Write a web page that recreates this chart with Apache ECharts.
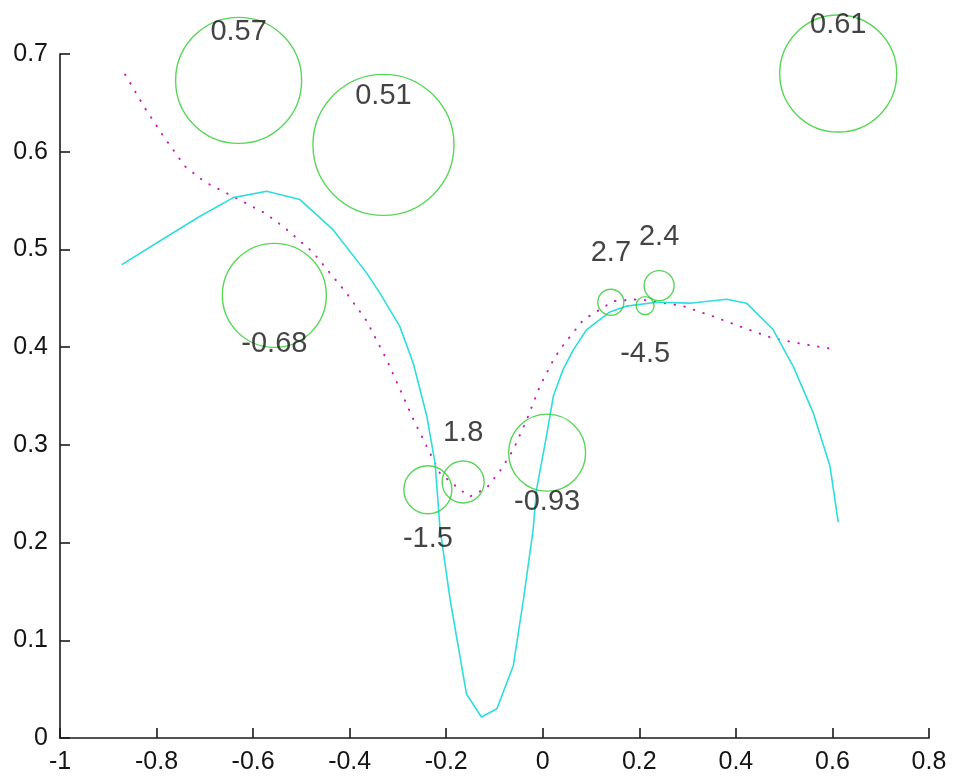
<!DOCTYPE html>
<html>
<head>
<meta charset="utf-8">
<script src="https://cdn.jsdelivr.net/npm/echarts@6/dist/echarts.min.js"></script>
<style>
  html, body { margin: 0; padding: 0; background: #fff; }
  #chart { width: 953px; height: 778px; }
</style>
</head>
<body>
<div id="chart"></div>
<script>
// ---- Data ----
const cyanX = [-0.872, -0.779, -0.710, -0.641, -0.572, -0.503, -0.434, -0.365, -0.337, -0.296, -0.268, -0.240, -0.223, -0.213, -0.192, -0.158, -0.127, -0.095, -0.061, -0.040, -0.020, -0.013, 0.008, 0.022, 0.042, 0.063, 0.091, 0.139, 0.174, 0.236, 0.305, 0.381, 0.422, 0.477, 0.519, 0.560, 0.595, 0.612];
const cyanY = [0.4845, 0.513, 0.534, 0.553, 0.5595, 0.551, 0.520, 0.476, 0.455, 0.421, 0.383, 0.329, 0.281, 0.215, 0.142, 0.045, 0.0215, 0.030, 0.074, 0.142, 0.213, 0.254, 0.310, 0.350, 0.377, 0.397, 0.418, 0.436, 0.442, 0.446, 0.445, 0.449, 0.445, 0.418, 0.380, 0.333, 0.278, 0.221];

const magentaX = [-0.865, -0.827, -0.786, -0.741, -0.700, -0.637, -0.575, -0.534, -0.476, -0.406, -0.365, -0.323, -0.296, -0.268, -0.240, -0.213, -0.171, -0.151, -0.116, -0.089, -0.061, -0.033, -0.006, 0.022, 0.036, 0.084, 0.146, 0.201, 0.291, 0.353, 0.415, 0.477, 0.540, 0.602];
const magentaY = [0.679, 0.647, 0.616, 0.585, 0.569, 0.553, 0.537, 0.522, 0.497, 0.455, 0.427, 0.387, 0.357, 0.326, 0.298, 0.271, 0.254, 0.247, 0.256, 0.273, 0.295, 0.326, 0.360, 0.387, 0.398, 0.428, 0.447, 0.449, 0.442, 0.4315, 0.420, 0.409, 0.403, 0.398];

const bubbleX = [-0.630, -0.330, -0.556, 0.612, -0.238, -0.165, 0.009, 0.141, 0.241, 0.212];
const bubbleY = [0.673, 0.607, 0.453, 0.680, 0.254, 0.262, 0.292, 0.446, 0.463, 0.4425];
const bubbleValue = [0.57, 0.51, -0.68, 0.61, -1.5, 1.8, -0.93, 2.7, 2.4, -4.5];
const bubbleSize = [126, 141, 104, 117, 48, 42, 77, 26, 30, 18];
const labelShift = 0.05; // labels placed 0.05 above (positive) or below (negative) the centre

// ---- Build ----
const cyanData = cyanX.map((x, i) => [x, cyanY[i]]);
const magentaData = magentaX.map((x, i) => [x, magentaY[i]]);
const bubbleData = bubbleX.map((x, i) => ({ value: [x, bubbleY[i]], symbolSize: bubbleSize[i] }));
const labelData = bubbleX.map((x, i) => ({
  value: [x, bubbleY[i] + (bubbleValue[i] >= 0 ? labelShift : -labelShift)],
  name: String(bubbleValue[i])
}));

const textColor = '#141414';
const fontFamily = "'Liberation Sans', Arial, sans-serif";

const chart = echarts.init(document.getElementById('chart'), null, { renderer: 'canvas' });
chart.setOption({
  animation: false,
  backgroundColor: '#ffffff',
  grid: { left: 60, right: 24, top: 54, bottom: 40, containLabel: false },
  xAxis: {
    type: 'value', min: -1, max: 0.8, interval: 0.2,
    axisLine: { show: true, onZero: false, lineStyle: { color: '#1a1a1a', width: 1.6 } },
    axisTick: { show: true, inside: true, length: 10, lineStyle: { color: '#1a1a1a', width: 1.6 } },
    splitLine: { show: false },
    axisLabel: { color: textColor, fontSize: 25, fontFamily: fontFamily, margin: 12, showMinLabel: true, showMaxLabel: true }
  },
  yAxis: {
    type: 'value', min: 0, max: 0.7, interval: 0.1,
    axisLine: { show: true, onZero: false, lineStyle: { color: '#1a1a1a', width: 1.6 } },
    axisTick: { show: true, inside: true, length: 10, lineStyle: { color: '#1a1a1a', width: 1.6 } },
    splitLine: { show: false },
    axisLabel: { color: textColor, fontSize: 25, fontFamily: fontFamily, margin: 12, showMinLabel: true, showMaxLabel: true }
  },
  series: [
    {
      type: 'line', data: magentaData, showSymbol: false, silent: true, z: 2, clip: false,
      lineStyle: { color: '#c81eb4', width: 2, type: [0.5, 9.5], cap: 'round' }
    },
    {
      type: 'line', data: cyanData, showSymbol: false, silent: true, z: 3, clip: false,
      lineStyle: { color: '#30dcdc', width: 1.6 }
    },
    {
      type: 'scatter', data: bubbleData, symbol: 'circle', silent: true, z: 4, clip: false,
      itemStyle: { color: 'rgba(0,0,0,0)', borderColor: '#2fcc2f', borderWidth: 1.4 }
    },
    {
      type: 'scatter', data: labelData, symbolSize: 1, silent: true, z: 5, clip: false,
      itemStyle: { color: 'rgba(0,0,0,0)' },
      label: {
        show: true, position: 'inside', formatter: p => p.name,
        color: textColor, fontSize: 29, fontFamily: fontFamily
      }
    }
  ]
});
</script>
</body>
</html>
